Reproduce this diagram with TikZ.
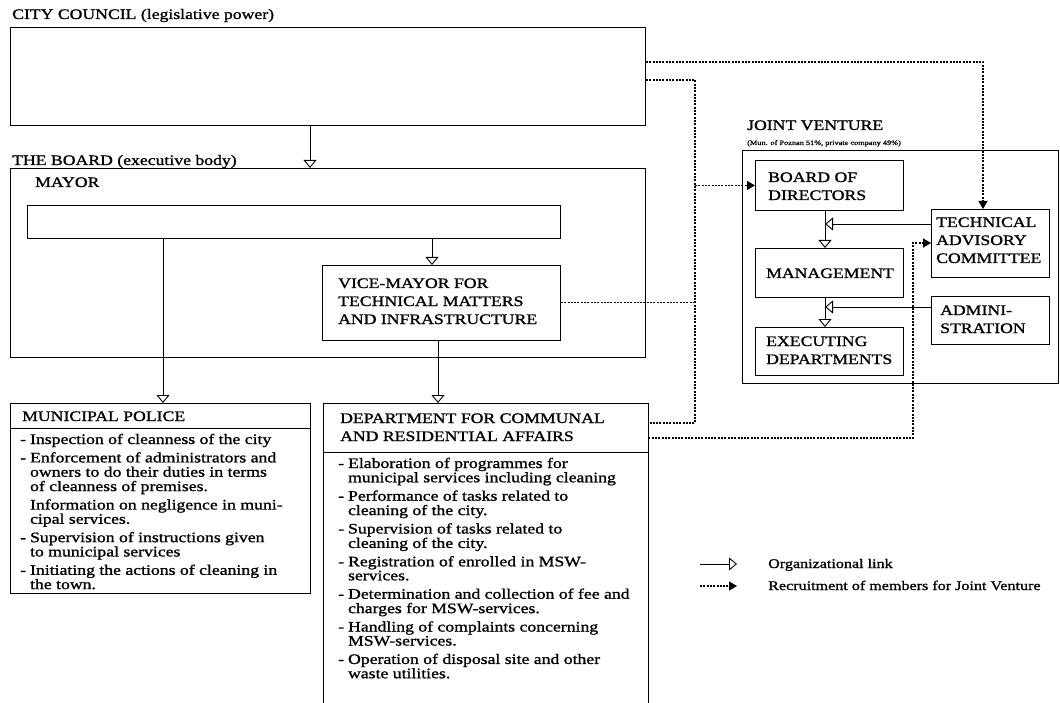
\documentclass[tikz,border=0pt]{standalone}
\usepackage{fontspec}
\setmainfont{Liberation Serif}[FakeStretch=1.22,FakeBold=1.2]
\usetikzlibrary{arrows.meta}
\newcommand\capsfont{\fontsize{14.5}{18}\selectfont}
\newcommand\bodyfont{\fontsize{14.5}{14}\selectfont}
\newcommand\legendfont{\fontsize{13.2}{14}\selectfont}
\newcommand\smallfont{\fontsize{6.8}{8}\selectfont}
\newcommand\block[1]{\begin{tabular}[t]{@{}l@{}}#1\end{tabular}}
\newcommand\items[1]{\begin{tabular}[t]{@{}l@{\hspace{4pt}}l@{}}#1\end{tabular}}

\begin{document}
\begin{tikzpicture}[x=1pt,y=-1pt,
  frame/.style={draw, line width=0.9pt, inner sep=0pt, anchor=north west},
  txt/.style={anchor=base west, inner sep=0pt, font=\capsfont},
  body/.style={anchor=base west, inner sep=0pt, font=\bodyfont},
  org/.style={line width=0.9pt, -{Triangle[open,width=13pt,length=8pt]}},
  rec/.style={line width=1.1pt, dash pattern=on 2pt off 1.3pt},
  rectip/.style={-{Triangle[width=9pt,length=8pt]}},
]
\useasboundingbox (0,0) rectangle (1060,703);

% x positions of the vertical links
\coordinate (x163) at (163,0);
\coordinate (x310) at (310,0);
\coordinate (x432) at (432,0);
\coordinate (x438) at (438,0);
\coordinate (x695) at (695,0);
\coordinate (x825) at (825,0);
\coordinate (x913) at (913,0);
\coordinate (x983) at (983,0);

% City council
\node[txt] (cctitle) at (12,19) {CITY COUNCIL (legislative power)};
\node[frame, minimum width=635pt, minimum height=98pt] (council) at (10,27) {};

% The board
\node[txt] (bdtitle) at (12,165) {THE BOARD (executive body)};
\node[frame, minimum width=635pt, minimum height=189pt] (board) at (10,168) {};
\node[txt] (mayorlbl) at (35,187) {MAYOR};
\node[frame, minimum width=533pt, minimum height=33pt] (mayor) at (27,205) {};
\node[frame, minimum width=238pt, minimum height=75pt] (vice) at (322,265) {};
\node[txt] (vicelbl) at (338,288) {\block{VICE-MAYOR FOR\\TECHNICAL MATTERS\\AND INFRASTRUCTURE}};

% Municipal police
\node[frame, minimum width=300pt, minimum height=190pt] (police) at (10,403) {};
\draw[line width=0.9pt] ([yshift=-25pt]police.north west) -- ([yshift=-25pt]police.north east);
\node[txt] (pollbl) at (22,421) {MUNICIPAL POLICE};
\node[body] (poltext) at (20,444) {\items{
 - & Inspection of cleanness of the city\\[4pt]
 - & Enforcement of administrators and\\
   & owners to do their duties in terms\\
   & of cleanness of premises.\\[4pt]
   & Information on negligence in muni-\\
   & cipal services.\\[4pt]
 - & Supervision of instructions given\\
   & to municipal services\\[4pt]
 - & Initiating the actions of cleaning in\\
   & the town.}};

% Department for communal and residential affairs (open at the foot)
\node[inner sep=0pt, anchor=north west, minimum width=325pt, minimum height=300pt] (dept) at (323,403) {};
\draw[line width=0.9pt] (dept.south west) -- (dept.north west) -- (dept.north east) -- (dept.south east);
\draw[line width=0.9pt] ([yshift=-49pt]dept.north west) -- ([yshift=-49pt]dept.north east);
\node[txt] (deptlbl) at (340,423) {\block{DEPARTMENT FOR COMMUNAL\\AND RESIDENTIAL AFFAIRS}};
\node[body] (depttext) at (338,468) {\items{
 - & Elaboration of programmes for\\
   & municipal services including cleaning\\[4pt]
 - & Performance of tasks related to\\
   & cleaning of the city.\\[4pt]
 - & Supervision of tasks related to\\
   & cleaning of the city.\\[4pt]
 - & Registration of enrolled in MSW-\\
   & services.\\[4pt]
 - & Determination and collection of fee and\\
   & charges for MSW-services.\\[4pt]
 - & Handling of complaints concerning\\
   & MSW-services.\\[4pt]
 - & Operation of disposal site and other\\
   & waste utilities.}};

% Joint venture
\node[txt] (jvtitle) at (747,130) {JOINT VENTURE};
\node[anchor=base west, inner sep=0pt, font=\smallfont] (jvsub) at (747,145) {(Mun. of Poznan 51\%, private company 49\%)};
\node[frame, minimum width=316pt, minimum height=233pt] (jv) at (742,150) {};
\node[frame, minimum width=148pt, minimum height=50pt] (bod) at (755,160) {};
\node[txt] (bodlbl) at (768,182) {\block{BOARD OF\\DIRECTORS}};
\node[frame, minimum width=148pt, minimum height=49pt] (mgmt) at (755,248) {};
\node[txt] (mgmtlbl) at (766,278) {MANAGEMENT};
\node[frame, minimum width=148pt, minimum height=48pt] (exec) at (755,327) {};
\node[txt] (execlbl) at (766,346) {\block{EXECUTING\\DEPARTMENTS}};
\node[frame, minimum width=118pt, minimum height=68pt] (tac) at (931,209) {};
\node[txt] (taclbl) at (936,227) {\block{TECHNICAL\\ADVISORY\\COMMITTEE}};
\node[frame, minimum width=118pt, minimum height=48pt] (admin) at (931,296) {};
\node[txt] (adminlbl) at (940,315) {\block{ADMINI-\\STRATION}};

% Organizational links
\draw[org] (council.south -| x310) -- (board.north -| x310);
\draw[org] (mayor.south -| x163) -- (police.north -| x163);
\draw[org] (mayor.south -| x432) -- (vice.north -| x432);
\draw[org] (vice.south -| x438) -- (dept.north -| x438);
\draw[org] (bod.south -| x825) -- (mgmt.north -| x825);
\draw[org] (mgmt.south -| x825) -- (exec.north -| x825);
\coordinate (t1) at ([yshift=-15pt]tac.north west);
\coordinate (a1) at ([yshift=-11pt]admin.north west);
\draw[org] (t1) -- (x825 |- t1);
\draw[org] (a1) -- (x825 |- a1);

% Recruitment of members
\coordinate (c1) at ([yshift=-35pt]council.north east);
\coordinate (c2) at ([yshift=-53pt]council.north east);
\coordinate (d1) at ([yshift=-20pt]dept.north east);
\coordinate (d2) at ([yshift=-35pt]dept.north east);
\coordinate (t2) at ([yshift=-34pt]tac.north west);
\draw[rec,rectip] (c1) -| (x983 |- tac.north);
\draw[rec] (c2) -| (x695 |- d1) -- (d1);
\draw[rec,rectip] (x695 |- bod.west) -- (bod.west);
\draw[rec] (vice.east) -- (x695 |- vice.east);
\draw[rec,rectip] (d2) -| (x913 |- t2) -- (t2);

% Legend
\coordinate (l1a) at (700,564);
\coordinate (l1b) at (737,564);
\coordinate (l2a) at (700,586);
\coordinate (l2b) at (737,586);
\draw[org] (l1a) -- (l1b);
\draw[rec,rectip] (l2a) -- (l2b);
\node[body, font=\legendfont] (lg1) at (768,568) {Organizational link};
\node[body, font=\legendfont] (lg2) at (768,590) {Recruitment of members for Joint Venture};
\end{tikzpicture}
\end{document}
